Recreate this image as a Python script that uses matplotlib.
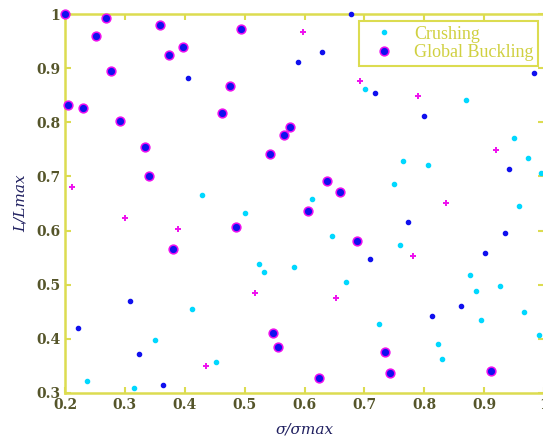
import matplotlib.pyplot as plt
from matplotlib.ticker import FuncFormatter

# crushing points (light)
crush_x = [0.429, 0.501, 0.701, 0.870, 0.950, 0.973, 0.995, 0.765, 0.806, 0.749,
           0.613, 0.958, 0.524, 0.533, 0.412, 0.350, 0.453, 0.237, 0.316, 0.646,
           0.759, 0.582, 0.877, 0.886, 0.926, 0.670, 0.895, 0.966, 0.725, 0.991,
           0.823, 0.830]
crush_y = [0.666, 0.632, 0.862, 0.841, 0.771, 0.735, 0.706, 0.729, 0.721, 0.686,
           0.658, 0.645, 0.538, 0.524, 0.455, 0.398, 0.356, 0.322, 0.308, 0.589,
           0.573, 0.532, 0.518, 0.489, 0.497, 0.504, 0.434, 0.449, 0.427, 0.407,
           0.391, 0.362]

# crushing points (dark)
dark_x = [0.405, 0.677, 0.630, 0.589, 0.983, 0.718, 0.799, 0.942, 0.309, 0.221,
          0.324, 0.364, 0.773, 0.935, 0.902, 0.710, 0.862, 0.813]
dark_y = [0.882, 1.000, 0.931, 0.911, 0.891, 0.854, 0.812, 0.714, 0.470, 0.420,
          0.372, 0.314, 0.616, 0.596, 0.559, 0.547, 0.461, 0.441]

# unstable points
plus_x = [0.211, 0.300, 0.597, 0.693, 0.789, 0.919, 0.837, 0.389, 0.517, 0.436,
          0.782, 0.653]
plus_y = [0.680, 0.623, 0.967, 0.877, 0.848, 0.749, 0.651, 0.602, 0.484, 0.349,
          0.553, 0.475]

# global buckling
buck_x = [0.200, 0.269, 0.252, 0.358, 0.397, 0.374, 0.494, 0.277, 0.476, 0.205,
          0.230, 0.292, 0.463, 0.333, 0.543, 0.341, 0.575, 0.565, 0.637, 0.660,
          0.606, 0.486, 0.380, 0.548, 0.556, 0.687, 0.734, 0.742, 0.624, 0.912]
buck_y = [1.000, 0.994, 0.959, 0.980, 0.939, 0.925, 0.973, 0.896, 0.867, 0.832,
          0.826, 0.803, 0.818, 0.755, 0.742, 0.700, 0.792, 0.777, 0.692, 0.671,
          0.637, 0.607, 0.566, 0.410, 0.384, 0.581, 0.376, 0.336, 0.328, 0.341]

axis_col = '#dcdc50'
text_col = '#55552a'

fig = plt.figure(figsize=(5.43, 4.42), dpi=100)
ax = fig.add_axes([65 / 543, (442 - 392.7) / 442, 479 / 543, 378.4 / 442])

ax.plot(crush_x, crush_y, 'o', ms=3.0, color='#00d8ff', mec='#00d8ff',
        label='Crushing', clip_on=False, zorder=3)
ax.plot(dark_x, dark_y, 'o', ms=3.0, color='#1010ee', mec='#1010ee',
        clip_on=False, zorder=3)
ax.plot(plus_x, plus_y, '+', ms=4.5, mew=1.4, color='#ee10ee',
        clip_on=False, zorder=3)
ax.plot(buck_x, buck_y, 'o', ms=6.3, mfc='#1010ee', mec='#ee10ee', mew=1.1,
        label='Global Buckling', clip_on=False, zorder=4)

ax.set_xlim(0.2, 1.0)
ax.set_ylim(0.3, 1.0)
ax.set_xticks([0.2, 0.3, 0.4, 0.5, 0.6, 0.7, 0.8, 0.9, 1.0])
ax.set_yticks([0.3, 0.4, 0.5, 0.6, 0.7, 0.8, 0.9, 1.0])
fmt = FuncFormatter(lambda v, p: '1' if abs(v - 1) < 1e-9 else '%.1f' % v)
ax.xaxis.set_major_formatter(fmt)
ax.yaxis.set_major_formatter(fmt)

for s in ax.spines.values():
    s.set_color(axis_col)
    s.set_linewidth(1.8)
ax.tick_params(direction='in', length=4, width=1.5, color=axis_col,
               top=True, right=True, labelsize=10, labelcolor=text_col)
for lab in ax.get_xticklabels() + ax.get_yticklabels():
    lab.set_family('DejaVu Serif')
    lab.set_weight('bold')

ax.set_xlabel('σ/σmax', fontsize=11, style='italic', family='DejaVu Serif',
              color='#202060', labelpad=8)
ax.set_ylabel('L/Lmax', fontsize=11, style='italic', family='DejaVu Serif',
              color='#202060', labelpad=6)

leg = ax.legend(loc='upper right', bbox_to_anchor=(0.988, 0.982),
                borderaxespad=0, frameon=True, fancybox=False, framealpha=1,
                edgecolor=axis_col,
                prop={'family': 'Liberation Serif', 'size': 13},
                handletextpad=0.6, borderpad=0.25, labelspacing=0.1,
                handlelength=2.2)
leg.get_frame().set_linewidth(1.5)
for t in leg.get_texts():
    t.set_color('#d0d040')

fig.savefig('out.png', dpi=100)
